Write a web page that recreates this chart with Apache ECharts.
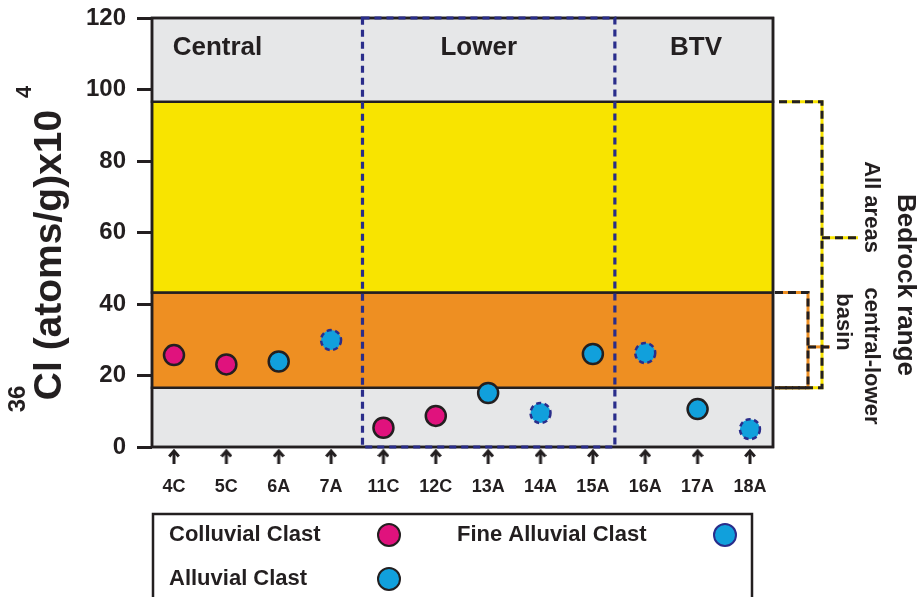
<!DOCTYPE html>
<html>
<head>
<meta charset="utf-8">
<script src="https://cdn.jsdelivr.net/npm/echarts@6/dist/echarts.min.js"></script>
<style>
  html, body { margin: 0; padding: 0; background: #ffffff; }
  #chart { width: 921px; height: 597px; }
</style>
</head>
<body>
<div id="chart"></div>
<script>
// Sample labels, clast type and 36Cl concentration (x10^4 atoms/g)
const samples = ['4C', '5C', '6A', '7A', '11C', '12C', '13A', '14A', '15A', '16A', '17A', '18A'];
const clastTypes = ['Colluvial', 'Colluvial', 'Alluvial', 'Fine', 'Colluvial', 'Colluvial',
                    'Alluvial', 'Fine', 'Alluvial', 'Fine', 'Alluvial', 'Fine'];
const cl36 = [25.7, 23.1, 23.9, 29.9, 5.4, 8.7, 15.1, 9.5, 26.0, 26.3, 10.6, 5.0];

// Value axis range
const yMin = 0, yMax = 120, yStep = 20;

// Horizontal bands: background / central-lower bedrock / all-areas bedrock / background
const bandEdges = [0, 16.6, 43.2, 96.6, 120];
const bandColors = ['#e6e7e8', '#ee8f22', '#f8e400', '#e6e7e8'];

// Bedrock ranges shown with brackets on the right
const bedrockAllAreas = [16.6, 96.6];
const bedrockCentralLower = [16.6, 43.2];
const bracketAnchors = [58.5, 28.0];

// Basin zones (positions along the sample axis)
const zoneNames = ['Central', 'Lower', 'BTV'];
const zoneCentres = [0.83, 5.82, 9.97];
const lowerZoneSpan = [3.6, 8.42];

// Legend entries
const seriesNames = { Colluvial: 'Colluvial Clast', Alluvial: 'Alluvial Clast', Fine: 'Fine Alluvial Clast' };

const INK = '#231f20';
const NAVY = '#2a2d8a';
const MAGENTA = '#e0127d';
const BLUE = '#11a0dc';
const FONT = '"Liberation Sans", Arial, Helvetica, sans-serif';

function pointsOf(type) {
  const out = [];
  cl36.forEach((v, i) => { if (clastTypes[i] === type) out.push([i, v]); });
  return out;
}

// Small upward arrow used above each sample label
function arrowImage() {
  const c = document.createElement('canvas');
  c.width = 12; c.height = 15;
  const g = c.getContext('2d');
  g.strokeStyle = INK;
  g.lineWidth = 3;
  g.lineCap = 'butt';
  g.lineJoin = 'miter';
  g.beginPath();
  g.moveTo(6, 15); g.lineTo(6, 2.5);
  g.stroke();
  g.beginPath();
  g.moveTo(1.2, 7.5); g.lineTo(6, 2); g.lineTo(10.8, 7.5);
  g.stroke();
  return c;
}
const ARROW = arrowImage();

const bandAreas = [];
for (let i = 0; i < bandColors.length; i++) {
  bandAreas.push([
    { yAxis: bandEdges[i], itemStyle: { color: bandColors[i], borderColor: INK, borderWidth: 2.5 } },
    { yAxis: bandEdges[i + 1] }
  ]);
}

const chart = echarts.init(document.getElementById('chart'), null, { renderer: 'canvas' });

const legendText = (w) => ({
  color: INK, fontFamily: FONT, fontWeight: 'bold', fontSize: 22,
  rich: { t: { width: w, align: 'left', color: INK, fontFamily: FONT, fontWeight: 'bold', fontSize: 22, lineHeight: 26 } }
});

chart.setOption({
  animation: false,
  backgroundColor: '#ffffff',
  grid: { left: 152, right: 148, top: 18, bottom: 150, containLabel: false },
  xAxis: {
    type: 'value',
    min: -0.42,
    max: 11.44,
    splitLine: { show: false },
    axisLine: { show: false, onZero: false },
    axisTick: { show: false },
    axisLabel: {
      customValues: samples.map((s, i) => i),
      margin: 2,
      formatter: (v) => '{a|}\n{b|' + samples[Math.round(v)] + '}',
      rich: {
        a: { width: 12, height: 15, lineHeight: 28, align: 'center', verticalAlign: 'top', backgroundColor: { image: ARROW } },
        b: { fontFamily: FONT, fontWeight: 'bold', fontSize: 18, lineHeight: 20, color: INK }
      }
    }
  },
  yAxis: {
    type: 'value',
    min: yMin,
    max: yMax,
    interval: yStep,
    splitLine: { show: false },
    axisLine: { show: false, onZero: false },
    axisTick: { show: true, length: 15, lineStyle: { color: INK, width: 3 } },
    axisLabel: { fontFamily: FONT, fontWeight: 'bold', fontSize: 24, color: INK, margin: 26 }
  },
  legend: [
    {
      orient: 'vertical', left: 169, top: 523, padding: 0, itemGap: 20,
      itemWidth: 22, itemHeight: 22, align: 'right', selectedMode: false,
      data: [seriesNames.Colluvial, seriesNames.Alluvial],
      formatter: (n) => '{t|' + n + '}',
      textStyle: legendText(204)
    },
    {
      orient: 'vertical', left: 457, top: 523, padding: 0,
      itemWidth: 22, itemHeight: 22, align: 'right', selectedMode: false,
      data: [seriesNames.Fine],
      formatter: (n) => '{t|' + n + '}',
      textStyle: legendText(252)
    }
  ],
  series: [
    {
      name: 'bands',
      type: 'line',
      data: [],
      z: 1,
      silent: true,
      markArea: { silent: true, data: bandAreas }
    },
    {
      name: seriesNames.Colluvial, type: 'scatter', z: 5,
      symbol: 'circle', symbolSize: 20,
      itemStyle: { color: MAGENTA, borderColor: INK, borderWidth: 2.5, opacity: 1 },
      data: pointsOf('Colluvial')
    },
    {
      name: seriesNames.Alluvial, type: 'scatter', z: 5,
      symbol: 'circle', symbolSize: 20,
      itemStyle: { color: BLUE, borderColor: INK, borderWidth: 2.5, opacity: 1 },
      data: pointsOf('Alluvial')
    },
    {
      name: seriesNames.Fine, type: 'scatter', z: 5,
      symbol: 'circle', symbolSize: 20,
      itemStyle: { color: BLUE, borderColor: NAVY, borderWidth: 2.5, borderType: [5, 3.5], opacity: 1 },
      data: pointsOf('Fine')
    }
  ]
});

// Annotations placed from axis coordinates
const px = (x, y) => chart.convertToPixel({ gridIndex: 0 }, [x, y]);
const topLeft = px(-0.42, yMax);
const botRight = px(11.44, yMin);
const L = topLeft[0], T = topLeft[1], R = botRight[0], B = botRight[1];

const lowA = px(lowerZoneSpan[0], yMax);
const lowB = px(lowerZoneSpan[1], yMin);

function bracket(range, anchor, dx, startDx, tickDx, colour) {
  const yTop = px(0, range[1])[1];
  const yBot = px(0, range[0])[1];
  const yMid = px(0, anchor)[1];
  const xv = R + dx;
  const pts = [[R + startDx, yTop], [xv, yTop], [xv, yBot], [R + 2, yBot]];
  const tick = [[xv, yMid], [R + tickDx, yMid]];
  const els = [];
  [pts, tick].forEach((p) => {
    els.push({ type: 'polyline', z: 20, silent: true, shape: { points: p },
      style: { stroke: colour, lineWidth: 3, fill: null } });
    els.push({ type: 'polyline', z: 21, silent: true, shape: { points: p },
      style: { stroke: INK, lineWidth: 3, fill: null, lineDash: [8, 5] } });
  });
  return els;
}

const textStyle = (txt, size) => ({
  text: txt, fill: INK, font: 'bold ' + size + 'px ' + FONT, align: 'center', verticalAlign: 'middle'
});

const graphics = [
  // plot frame
  { type: 'rect', z: 30, silent: true, shape: { x: L, y: T, width: R - L, height: B - T },
    style: { fill: null, stroke: INK, lineWidth: 2.5 } },
  // Lower basin zone outline
  { type: 'rect', z: 31, silent: true,
    shape: { x: lowA[0], y: lowA[1], width: lowB[0] - lowA[0], height: lowB[1] - lowA[1] },
    style: { fill: null, stroke: NAVY, lineWidth: 3.2, lineDash: [7, 5] } },
  // legend frame
  { type: 'rect', z: 30, silent: true, shape: { x: L + 1, y: 514, width: 599, height: 110 },
    style: { fill: null, stroke: INK, lineWidth: 2.5 } },
  // y-axis title with superscripts
  { type: 'text', z: 40, x: 50, y: 255, rotation: Math.PI / 2, style: textStyle('Cl (atoms/g)x10', 39) },
  { type: 'text', z: 40, x: 18, y: 399, rotation: Math.PI / 2, style: textStyle('36', 24) },
  { type: 'text', z: 40, x: 25, y: 92, rotation: Math.PI / 2, style: textStyle('4', 22) },
  // bedrock range labels
  { type: 'text', z: 40, x: 905, y: 285, rotation: -Math.PI / 2, style: textStyle('Bedrock range', 26) },
  { type: 'text', z: 40, x: 871, y: 207, rotation: -Math.PI / 2, style: textStyle('All areas', 22) },
  { type: 'text', z: 40, x: 871, y: 356, rotation: -Math.PI / 2, style: textStyle('central-lower', 22) },
  { type: 'text', z: 40, x: 843, y: 322, rotation: -Math.PI / 2, style: textStyle('basin', 22) }
];

zoneNames.forEach((name, i) => {
  const p = px(zoneCentres[i], 111.7);
  graphics.push({ type: 'text', z: 40, x: p[0], y: p[1], style: textStyle(name, 26) });
});

graphics.push(...bracket(bedrockAllAreas, bracketAnchors[0], 49, 6, 85, '#f8e400'));
graphics.push(...bracket(bedrockCentralLower, bracketAnchors[1], 35, 2, 57, '#ee8f22'));

chart.setOption({ graphic: { elements: graphics } });
</script>
</body>
</html>
